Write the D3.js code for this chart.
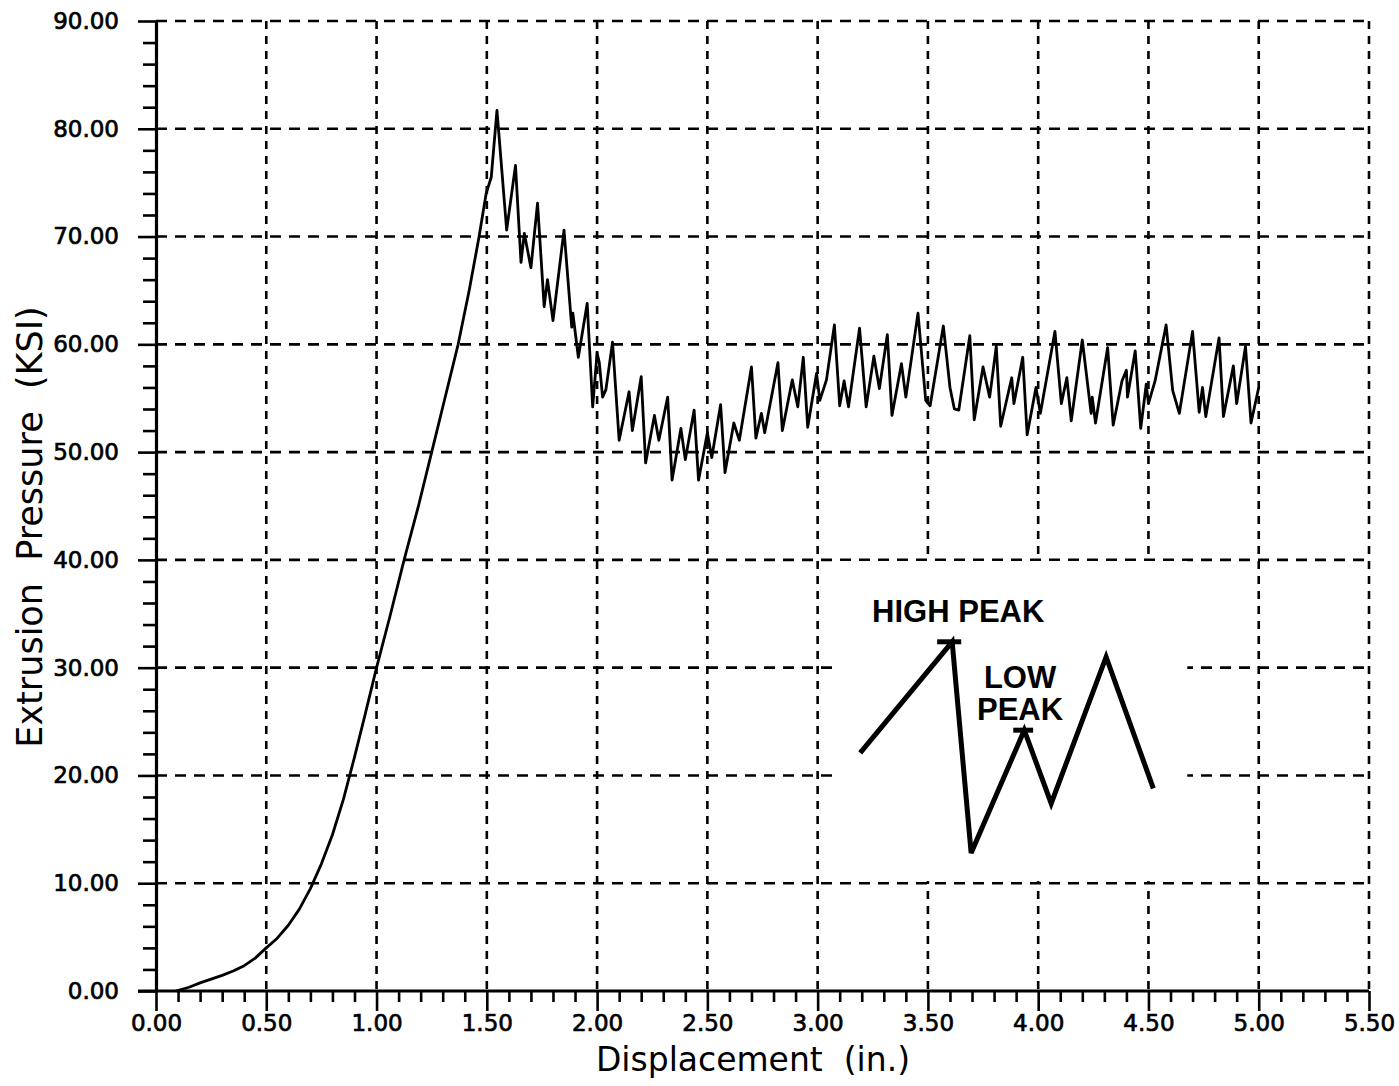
<!DOCTYPE html>
<html>
<head>
<meta charset="utf-8">
<script src="https://cdn.jsdelivr.net/npm/d3@7"></script>
<style>
  html, body { margin: 0; padding: 0; background: #fff; }
  svg { display: block; }
</style>
</head>
<body>
<svg id="chart" width="1399" height="1086"></svg>
<script>
// ---------- DATA ----------
const xTickValues = [0, 0.5, 1.0, 1.5, 2.0, 2.5, 3.0, 3.5, 4.0, 4.5, 5.0, 5.5];
const yTickValues = [0, 10, 20, 30, 40, 50, 60, 70, 80, 90];

const displacement = [
  0.09, 0.15, 0.20, 0.25, 0.30, 0.35, 0.40, 0.45, 0.50, 0.55, 0.60, 0.65, 0.70, 0.75,
  0.80, 0.85, 0.90, 0.95, 1.00, 1.06, 1.125, 1.19, 1.25, 1.31, 1.37, 1.42, 1.465,
  1.497, 1.52, 1.546, 1.59, 1.63, 1.655, 1.67, 1.70, 1.73,
  1.76, 1.775, 1.80, 1.85, 1.885, 1.89, 1.915, 1.955, 1.98, 2.00, 2.01, 2.025, 2.04,
  2.07, 2.10, 2.145, 2.16, 2.20, 2.22, 2.26, 2.28, 2.32, 2.34, 2.38, 2.40, 2.44, 2.46,
  2.50, 2.52, 2.56, 2.58, 2.62, 2.645, 2.70, 2.72, 2.745, 2.76, 2.82, 2.84, 2.885, 2.91,
  2.935, 2.955, 2.995, 3.01, 3.04, 3.076, 3.10, 3.12, 3.14, 3.19, 3.22, 3.255, 3.28,
  3.316, 3.337, 3.38, 3.40, 3.455, 3.49, 3.51, 3.57, 3.60, 3.62, 3.64, 3.69, 3.71, 3.75,
  3.78, 3.81, 3.83, 3.88, 3.89, 3.93, 3.95, 3.99, 4.01, 4.076, 4.105, 4.13, 4.15, 4.20,
  4.24, 4.245, 4.26, 4.315, 4.34, 4.38, 4.40, 4.405, 4.44, 4.465, 4.49, 4.50, 4.53, 4.58,
  4.61, 4.64, 4.70, 4.73, 4.745, 4.76, 4.82, 4.84, 4.885, 4.90, 4.94, 4.965, 5.00
];
const pressure = [
  0.0, 0.35, 0.75, 1.1, 1.45, 1.85, 2.35, 3.05, 4.0, 4.9, 6.1, 7.6, 9.5, 11.8,
  14.5, 17.8, 21.7, 25.8, 30.0, 34.7, 40.0, 45.0, 50.0, 55.0, 60.0, 65.0, 70.0,
  74.0, 75.5, 81.7, 70.6, 76.6, 67.6, 70.3, 67.1, 73.1,
  63.5, 66.0, 62.2, 70.6, 61.6, 62.9, 58.8, 63.8, 54.2, 59.2, 58.3, 55.1, 55.8,
  60.2, 51.1, 55.6, 52.0, 57.0, 49.0, 53.4, 51.1, 55.1, 47.4, 52.2, 49.3, 53.9, 47.4,
  51.8, 49.5, 54.4, 48.1, 52.7, 51.1, 57.9, 51.3, 53.6, 51.8, 58.3, 52.0, 56.7, 54.2,
  58.8, 52.3, 57.3, 54.8, 56.7, 61.8, 54.3, 56.6, 54.2, 61.5, 54.2, 58.9, 55.9,
  60.9, 53.4, 58.2, 55.1, 62.9, 54.8, 54.3, 61.7, 56.0, 54.0, 53.9, 60.8, 53.0, 57.9,
  55.1, 59.8, 52.4, 56.9, 54.5, 58.8, 51.6, 56.0, 53.6, 61.2, 54.5, 56.9, 52.9, 60.4,
  53.6, 55.1, 52.7, 59.7, 52.5, 56.6, 57.6, 55.1, 59.4, 52.2, 56.3, 54.5, 56.6, 61.8,
  55.7, 53.6, 61.2, 53.7, 56.0, 53.3, 60.6, 53.3, 58.0, 54.5, 59.8, 52.7, 56.0
];

// schematic inset (drawn in data units)
const insetX = [3.193, 3.610, 3.696, 3.937, 4.059, 4.308, 4.522];
const insetY = [22.1, 32.4, 12.8, 24.2, 17.4, 31.0, 18.8];
const highPeakBar = { x0: 3.542, x1: 3.651, y: 32.4 };
const lowPeakBar = { x0: 3.887, x1: 3.977, y: 24.2 };
const insetLabels = [
  { text: "HIGH PEAK", x: 3.247, y: 34.2, anchor: "start" },
  { text: "LOW", x: 3.918, y: 28.1, anchor: "middle" },
  { text: "PEAK", x: 3.918, y: 25.1, anchor: "middle" }
];
const xTitle = "Displacement  (in.)";
const yTitle = "Extrusion  Pressure  (KSI)";

// ---------- LAYOUT ----------
const svg = d3.select("#chart");
svg.append("rect").attr("width", 1399).attr("height", 1086).attr("fill", "#fff");

const x = d3.scaleLinear().domain([0, 5.5]).range([156, 1369]);
const y = d3.scaleLinear().domain([0, 90]).range([991, 21]);

const fmt = d3.format(".2f");
const tickFont = "'DejaVu Sans', sans-serif";

// grid
const grid = svg.append("g").attr("stroke", "#000").attr("stroke-width", 2.6).attr("fill", "none");
grid.selectAll("line.h").data(yTickValues.filter(v => v > 0)).join("line")
  .attr("x1", x(0)).attr("x2", x(5.5))
  .attr("y1", d => y(d)).attr("y2", d => y(d))
  .attr("stroke-dasharray", "11,8");
grid.selectAll("line.v").data(xTickValues.filter(v => v > 0)).join("line")
  .attr("x1", d => x(d)).attr("x2", d => x(d))
  .attr("y1", y(90)).attr("y2", y(0))
  .attr("stroke-dasharray", "8,7");

// white area behind the inset schematic
svg.append("rect")
  .attr("x", x(3.075)).attr("y", y(39.9))
  .attr("width", x(4.676) - x(3.075)).attr("height", y(10.2) - y(39.9))
  .attr("fill", "#fff");

// axes
const xMinor = d3.range(0, 55).map(i => i / 10).filter(v => Math.round(v * 10) % 5 !== 0);
const yMinor = d3.range(0, 91, 2).filter(v => v % 10 !== 0);

const gxMinor = svg.append("g").attr("transform", `translate(0,${y(0)})`)
  .call(d3.axisBottom(x).tickValues(xMinor).tickSize(11).tickSizeOuter(0).tickFormat(""));
const gx = svg.append("g").attr("transform", `translate(0,${y(0)})`)
  .call(d3.axisBottom(x).tickValues(xTickValues).tickSize(20).tickSizeOuter(0).tickPadding(4).tickFormat(fmt));
const gyMinor = svg.append("g").attr("transform", `translate(${x(0)},0)`)
  .call(d3.axisLeft(y).tickValues(yMinor).tickSize(13).tickSizeOuter(0).tickFormat(""));
const gy = svg.append("g").attr("transform", `translate(${x(0)},0)`)
  .call(d3.axisLeft(y).tickValues(yTickValues).tickSize(18).tickSizeOuter(0).tickPadding(19).tickFormat(fmt));

[gx, gxMinor, gy, gyMinor].forEach(g => {
  g.selectAll("path.domain").attr("stroke", "#000").attr("stroke-width", 3.2);
  g.selectAll(".tick line").attr("stroke", "#000").attr("stroke-width", 2.6);
  g.selectAll(".tick text").attr("fill", "#000")
    .style("font-family", tickFont).style("font-size", "23px")
    .attr("stroke", "#000").attr("stroke-width", 0.7);
});
gxMinor.select("path.domain").remove();
gyMinor.select("path.domain").remove();
// extend x-axis line left to meet the y tick at 0
gx.select("path.domain").attr("d", `M${x(0) - 18},0H${x(5.5)}`);

// axis titles
svg.append("text")
  .attr("x", 753).attr("y", 1071)
  .attr("text-anchor", "middle")
  .style("font-family", tickFont).style("font-size", "33px")
  .style("white-space", "pre").attr("xml:space", "preserve")
  .attr("fill", "#000")
  .text(xTitle);
svg.append("text")
  .attr("transform", "translate(42,527) rotate(-90)")
  .attr("text-anchor", "middle")
  .style("font-family", tickFont).style("font-size", "35px")
  .style("white-space", "pre").attr("xml:space", "preserve")
  .attr("fill", "#000")
  .text(yTitle);

// main curve
const pts = displacement.map((d, i) => [d, pressure[i]]);
svg.append("path")
  .datum(pts)
  .attr("fill", "none").attr("stroke", "#000").attr("stroke-width", 2.8)
  .attr("stroke-linejoin", "round")
  .attr("d", d3.line().x(d => x(d[0])).y(d => y(d[1])));

// inset schematic
const insetPts = insetX.map((d, i) => [d, insetY[i]]);
svg.append("path")
  .datum(insetPts)
  .attr("fill", "none").attr("stroke", "#000").attr("stroke-width", 5)
  .attr("stroke-linejoin", "miter")
  .attr("d", d3.line().x(d => x(d[0])).y(d => y(d[1])));
[highPeakBar, lowPeakBar].forEach(b => {
  svg.append("line")
    .attr("x1", x(b.x0)).attr("x2", x(b.x1))
    .attr("y1", y(b.y)).attr("y2", y(b.y))
    .attr("stroke", "#000").attr("stroke-width", 5);
});
svg.selectAll("text.inset").data(insetLabels).join("text")
  .attr("class", "inset")
  .attr("x", d => x(d.x)).attr("y", d => y(d.y))
  .attr("text-anchor", d => d.anchor)
  .style("font-family", "'Liberation Sans', Arial, sans-serif")
  .style("font-weight", "bold").style("font-size", "31px")
  .attr("fill", "#000")
  .text(d => d.text);
</script>
</body>
</html>
